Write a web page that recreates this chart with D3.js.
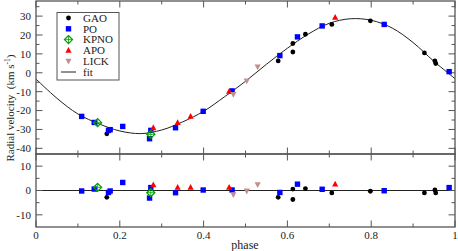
<!DOCTYPE html>
<html><head><meta charset="utf-8">
<script src="https://cdn.jsdelivr.net/npm/d3@7"></script>
<style>body{margin:0;background:#fff;} svg{display:block;}</style>
</head><body>
<script>
// ---- data ----
const gaoPhase = [0.169, 0.578, 0.613, 0.613, 0.643, 0.706, 0.798, 0.927, 0.952, 0.954];
const gaoRV    = [-32.3, 6.3, 11.0, 15.5, 20.4, 25.6, 27.5, 10.5, 6.3, 4.9];
const gaoRes   = [-2.8, -2.8, -3.7, 0.6, 0.8, -1.0, -0.3, -1.0, 0.2, -1.0];

const poPhase = [0.109, 0.139, 0.173, 0.177, 0.207, 0.271, 0.274, 0.333, 0.399, 0.468, 0.582, 0.624, 0.683, 0.831, 0.986];
const poRV    = [-23.1, -26.3, -30.5, -30.1, -28.4, -34.9, -30.5, -29.1, -20.4, -9.6, 9.1, 19.0, 24.8, 25.6, 0.6];
const poRes   = [-0.2, 0.6, -0.8, -0.2, 3.3, -3.1, 1.2, -0.9, 0.2, 0.2, -0.8, 2.6, 0.5, -0.1, 1.2];

const kpnoPhase = [0.147, 0.274];
const kpnoRV    = [-26.4, -32.6];
const kpnoRes   = [1.3, -0.9];

const apoPhase = [0.280, 0.338, 0.369, 0.461, 0.714];
const apoRV    = [-29.1, -26.4, -23.1, -9.8, 29.3];
const apoRes   = [2.3, 1.3, 1.3, 1.3, 2.6];

const lickPhase = [0.471, 0.503, 0.529];
const lickRV    = [-11.4, -4.3, 3.1];
const lickRes   = [-1.7, -0.2, 2.4];

const fitPhase = [0, 0.05, 0.10, 0.15, 0.20, 0.25, 0.30, 0.35, 0.40, 0.45, 0.50, 0.55, 0.60, 0.65, 0.70, 0.75, 0.80, 0.85, 0.90, 0.95, 1.0];
const fitRV    = [-3.3, -13.5, -21.8, -27.0, -30.8, -32.2, -30.3, -26.0, -20.4, -12.7, -4.5, 4.5, 13.0, 20.5, 26.2, 28.6, 27.8, 23.7, 16.0, 6.0, -3.1];

const xTicks = [0, 0.2, 0.4, 0.6, 0.8, 1];
const xTickLabels = ["0", "0.2", "0.4", "0.6", "0.8", "1"];
const xMinor = [0.1, 0.3, 0.5, 0.7, 0.9];
const topYTicks = [-40, -30, -20, -10, 0, 10, 20, 30];
const topYMinor = [-35, -25, -15, -5, 5, 15, 25, 35];
const botYTicks = [-10, 0, 10];
const botYMinor = [-5, 5];

const legendNames = ["GAO", "PO", "KPNO", "APO", "LICK", "fit"];

// ---- drawing ----
const W = 458, H = 251;
const svg = d3.select("body").append("svg").attr("width", W).attr("height", H);
const x = d3.scaleLinear().domain([0, 1]).range([36, 455]);
const yT = d3.scaleLinear().domain([-43, 38]).range([154, 1]);
const yB = d3.scaleLinear().domain([-15, 15]).range([227, 154]);
const axisCol = "#555";
const font = "'Liberation Serif', 'Times New Roman', serif";

// fit line
const line = d3.line().x((d, i) => x(fitPhase[i])).y((d, i) => yT(fitRV[i])).curve(d3.curveCatmullRom.alpha(0.5));
svg.append("path").attr("d", line(fitRV)).attr("fill", "none").attr("stroke", "#222").attr("stroke-width", 1);

// zero line in residual panel
svg.append("line").attr("x1", x(0)).attr("x2", x(1)).attr("y1", yB(0)).attr("y2", yB(0)).attr("stroke", "#222").attr("stroke-width", 1);

// frames
function frame(y0, y1) {
  svg.append("rect").attr("x", x(0)).attr("y", y0).attr("width", x(1) - x(0)).attr("height", y1 - y0)
    .attr("fill", "none").attr("stroke", axisCol).attr("stroke-width", 1.3);
}
frame(yT.range()[1], yT.range()[0]);
frame(yB.range()[1], yB.range()[0]);

function tick(x1, y1, x2, y2) {
  svg.append("line").attr("x1", x1).attr("y1", y1).attr("x2", x2).attr("y2", y2).attr("stroke", axisCol).attr("stroke-width", 1);
}
const MJ = 6.5, MN = 3.5;
// x ticks on all horizontal edges (inward)
[[yT.range()[1], 1], [yT.range()[0], -1], [yB.range()[1], 1], [yB.range()[0], -1]].forEach(([yy, dir]) => {
  xTicks.forEach(t => tick(x(t), yy, x(t), yy + dir * MJ));
  xMinor.forEach(t => tick(x(t), yy, x(t), yy + dir * MN));
});
// y ticks
topYTicks.forEach(t => { tick(x(0), yT(t), x(0) + MJ, yT(t)); tick(x(1), yT(t), x(1) - MJ, yT(t)); });
topYMinor.forEach(t => { tick(x(0), yT(t), x(0) + MN, yT(t)); tick(x(1), yT(t), x(1) - MN, yT(t)); });
botYTicks.forEach(t => { tick(x(0), yB(t), x(0) + MJ, yB(t)); tick(x(1), yB(t), x(1) - MJ, yB(t)); });
botYMinor.forEach(t => { tick(x(0), yB(t), x(0) + MN, yB(t)); tick(x(1), yB(t), x(1) - MN, yB(t)); });

// tick labels
const lab = svg.append("g").attr("font-family", font).attr("font-size", 11).attr("fill", "#222");
topYTicks.forEach(t => lab.append("text").attr("x", 31).attr("y", yT(t)).attr("dy", "0.35em").attr("text-anchor", "end").text(t));
botYTicks.forEach(t => lab.append("text").attr("x", 31).attr("y", yB(t)).attr("dy", "0.35em").attr("text-anchor", "end").text(t));
xTicks.forEach((t, i) => lab.append("text").attr("x", x(t)).attr("y", 239).attr("text-anchor", "middle").text(xTickLabels[i]));
lab.append("text").attr("x", 245).attr("y", 249).attr("text-anchor", "middle").attr("font-size", 12).text("phase");
const yl = lab.append("text").attr("transform", "translate(14,108) rotate(-90)").attr("text-anchor", "middle").attr("font-size", 11).attr("xml:space", "preserve");
yl.append("tspan").text("Radial velocity  (km s");
yl.append("tspan").attr("dy", -4).attr("font-size", 7.5).text("-1");
yl.append("tspan").attr("dy", 4).text(")");

// markers
function drawMarker(g, kind, cx, cy) {
  if (kind === "GAO") g.append("circle").attr("cx", cx).attr("cy", cy).attr("r", 2.4).attr("fill", "#000");
  else if (kind === "PO") g.append("rect").attr("x", cx - 2.7).attr("y", cy - 2.7).attr("width", 5.4).attr("height", 5.4).attr("fill", "#0000ff");
  else if (kind === "KPNO") {
    g.append("path").attr("d", `M${cx},${cy - 4}L${cx + 4},${cy}L${cx},${cy + 4}L${cx - 4},${cy}Z`).attr("fill", "none").attr("stroke", "#00a000").attr("stroke-width", 1.3);
    g.append("path").attr("d", `M${cx},${cy - 4}V${cy + 4}M${cx - 4},${cy}H${cx + 4}`).attr("stroke", "#00a000").attr("stroke-width", 0.8);
  }
  else if (kind === "APO") g.append("path").attr("d", `M${cx},${cy - 3.4}L${cx + 3.1},${cy + 2.4}L${cx - 3.1},${cy + 2.4}Z`).attr("fill", "#ff0000");
  else if (kind === "LICK") g.append("path").attr("d", `M${cx},${cy + 3.4}L${cx + 3.1},${cy - 2.4}L${cx - 3.1},${cy - 2.4}Z`).attr("fill", "#c09090");
}
const series = [
  ["GAO", gaoPhase, gaoRV, gaoRes],
  ["PO", poPhase, poRV, poRes],
  ["KPNO", kpnoPhase, kpnoRV, kpnoRes],
  ["APO", apoPhase, apoRV, apoRes],
  ["LICK", lickPhase, lickRV, lickRes]
];
const mk = svg.append("g");
series.forEach(([name, ph, rv, rs]) => {
  ph.forEach((p, i) => {
    drawMarker(mk, name, x(p), yT(rv[i]));
    drawMarker(mk, name, x(p), yB(rs[i]));
  });
});

// legend
const lg = svg.append("g");
lg.append("rect").attr("x", 57).attr("y", 12.5).attr("width", 62).attr("height", 67.5).attr("fill", "#fff").attr("stroke", axisCol).attr("stroke-width", 1);
legendNames.forEach((n, i) => {
  const cy = 18 + i * 10.8;
  if (n === "fit") lg.append("line").attr("x1", 61).attr("x2", 76).attr("y1", cy).attr("y2", cy).attr("stroke", "#222");
  else drawMarker(lg, n, 68.5, cy);
  lg.append("text").attr("x", 83).attr("y", cy).attr("dy", "0.35em").attr("font-family", font).attr("font-size", 11).attr("fill", "#222").text(n);
});
</script>
</body></html>
